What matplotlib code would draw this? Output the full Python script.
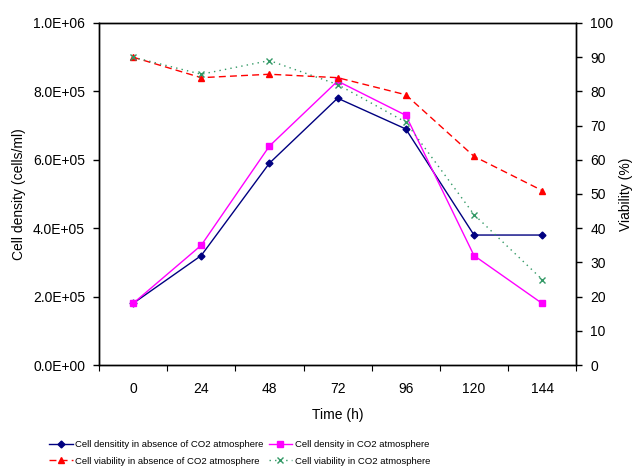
import numpy as np
import matplotlib.pyplot as plt
from matplotlib.ticker import FuncFormatter

plt.rcParams['font.family'] = ['Liberation Sans', 'DejaVu Sans']

time_h = ['0', '24', '48', '72', '96', '120', '144']
density_no_co2 = [1.8e5, 3.2e5, 5.9e5, 7.8e5, 6.9e5, 3.8e5, 3.8e5]
density_co2 = [1.8e5, 3.5e5, 6.4e5, 8.3e5, 7.3e5, 3.2e5, 1.8e5]
viability_no_co2 = [90, 84, 85, 84, 79, 61, 51]
viability_co2 = [90, 85, 89, 82, 71, 44, 25]

x = np.arange(len(time_h))

fig = plt.figure(figsize=(6.34, 4.68), dpi=100)
ax = fig.add_axes([0.156, 0.22, 0.753, 0.731])
ax2 = ax.twinx()

l1, = ax.plot(x, density_no_co2, color='#000080', lw=1, marker='D', ms=3.5,
              label='Cell densitity in absence of CO2 atmosphere')
l2, = ax.plot(x, density_co2, color='#FF00FF', lw=1, marker='s', ms=5,
              label='Cell density in CO2 atmosphere')
l3, = ax2.plot(x, viability_no_co2, color='#FF0000', lw=1, ls=(0, (5, 3)),
               marker='^', ms=5, label='Cell viability in absence of CO2 atmosphere')
l4, = ax2.plot(x, viability_co2, color='#339966', lw=1, ls=(0, (1, 3)),
               marker='x', ms=4.5, mew=1, label='Cell viability in CO2 atmosphere')

ax.set_xlim(-0.5, len(time_h) - 0.5)
ax.set_ylim(0, 1.0e6)
ax2.set_ylim(0, 100)

ax.set_xticks(np.arange(-0.5, len(time_h), 1.0))
ax.set_xticklabels([])
ax.set_xticks(x, minor=True)
ax.set_xticklabels(time_h, minor=True)
ax.tick_params(axis='x', which='minor', length=0, pad=12, labelsize=10)
ax.tick_params(axis='x', which='major', length=4, direction='out')

ax.set_yticks(np.arange(0, 1.01e6, 2e5))
ax.yaxis.set_major_formatter(FuncFormatter(lambda v, p: '%.1E' % v))
ax2.set_yticks(np.arange(0, 101, 10))

for a in (ax, ax2):
    a.tick_params(axis='y', labelsize=10, direction='out', length=4, width=1, pad=6)
    for s in a.spines.values():
        s.set_linewidth(1)

ax.set_xlabel('Time (h)', fontsize=10, labelpad=9)
ax.set_ylabel('Cell density (cells/ml)', fontsize=10, labelpad=5)
ax2.set_ylabel('Viability (%)', fontsize=10, labelpad=4)

fig.legend(handles=[l1, l3, l2, l4], loc='center left', ncol=2,
           bbox_to_anchor=(49 / 634, 0.032), frameon=False, fontsize=6.8,
           handlelength=2.5, handletextpad=0.3, columnspacing=0.5,
           labelspacing=0.8, borderpad=0, borderaxespad=0)

fig.savefig('out.png', dpi=100)
